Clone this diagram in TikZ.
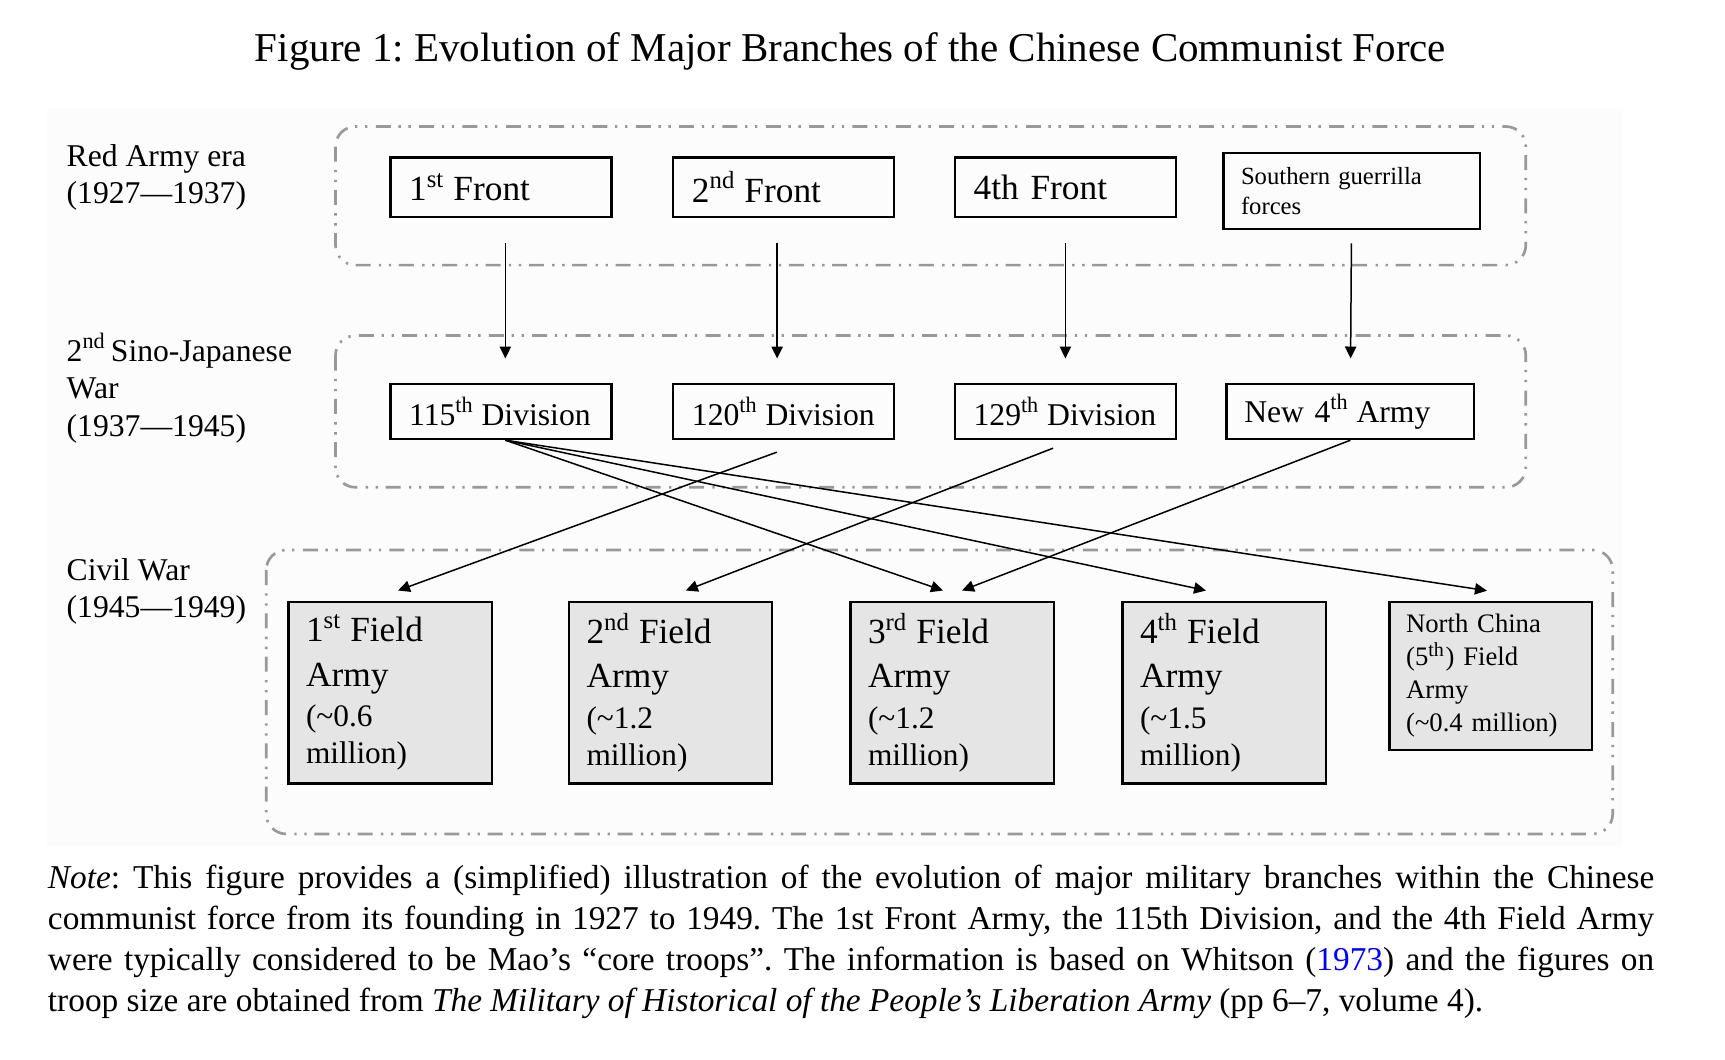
\documentclass[tikz,border=0pt]{standalone}
\usepackage{fontspec}
\setmainfont{Liberation Serif}
\usetikzlibrary{arrows.meta,positioning,backgrounds}
\newcommand{\troops}[1]{{\fontsize{9.4}{11}\selectfont #1}}
\newcommand{\ord}[1]{\textsuperscript{#1}\hspace{-1pt}}
\hyphenpenalty=10000
\frenchspacing

\begin{document}
\begin{tikzpicture}[
  x=0.3pt,y=-0.3pt,
  era/.style={anchor=west,inner sep=0pt,align=left,font=\fontsize{9.5}{11.2}\selectfont},
  grp/.style={draw=black!40,line width=0.8pt,rounded corners=6pt,
    dash pattern=on 4.5pt off 2.5pt on 0.7pt off 2.3pt on 0.7pt off 2.3pt},
  unit/.style={draw,line width=0.7pt,inner ysep=0pt,align=left},
  front/.style={unit,inner xsep=5.6pt,text width=55.1pt,minimum height=17.8pt,
    font=\fontsize{10.6}{12}\selectfont},
  divn/.style={unit,inner xsep=5.6pt,text width=55.1pt,minimum height=16.5pt,
    font=\fontsize{9.5}{11}\selectfont},
  field/.style={unit,fill=black!10,inner xsep=5.3pt,text width=50.4pt,minimum height=54.5pt,
    font=\fontsize{10.6}{11}\selectfont},
  ar/.style={-{Triangle[length=3.6pt,width=3.4pt]},line width=0.45pt}
]
\useasboundingbox (0,0) rectangle (1725,1059);
\fill[white] (0,0) rectangle (1725,1059);
\fill[black!1.2] (47,108) rectangle (1623,847);

\node[font=\fontsize{12.3}{14}\selectfont] (title) at (850.4,51.5)
  {Figure 1: Evolution of Major Branches of the Chinese Communist Force};

% eras
\node[era] (e1) at (66,177.2) {Red Army era\\(1927\textemdash1937)};
\node[era] (e2) at (66,388.2) {2\ord{nd} Sino-Japanese\\War\\(1937\textemdash1945)};
\node[era] (e3) at (66,591.6) {Civil War\\(1945\textemdash1949)};

\draw[grp] (335.5,126.5) rectangle (1525.8,265.1);
\draw[grp] (335.5,335.5) rectangle (1525.8,487.3);
\draw[grp] (266.2,550) rectangle (1612.7,833.9);

% Red Army era
\node[front] (f1) at (501,187) {\mbox{1\ord{st} Front}};
\node[front] (f2) at (783.8,187) {\mbox{2\ord{nd} Front}};
\node[front] (f4) at (1065.4,187) {4th Front};
\node[unit,inner xsep=5.3pt,text width=66.3pt,minimum height=22.8pt,
      font=\fontsize{7.4}{9}\selectfont] (sg) at (1351.5,190.9)
  {Southern guerrilla\\forces};

% Sino-Japanese war
\node[divn] (d115) at (501,411.5) {\mbox{115\ord{th} Division}};
\node[divn] (d120) at (783.8,411.5) {\mbox{120\ord{th} Division}};
\node[divn] (d129) at (1065.4,411.5) {\mbox{129\ord{th} Division}};
\node[divn,inner xsep=5.3pt,text width=63.7pt] (dn4) at (1350.4,411.5)
  {\mbox{New 4\ord{th} Army}};

\foreach \a/\b/\s in {f1/d115/1.3pt,f2/d120/-2pt,f4/d129/0pt}
  \draw[ar,shorten <=7.6pt,shorten >=7.3pt] ([xshift=\s]\a.south) -- ([xshift=\s]\b.north);
\draw[ar,shorten <=4pt,shorten >=7.3pt] (sg.south) -- (dn4.north);

% Civil war
\node[field] (fa1) at (390,692.5)
  {1\ord{st} Field\\[2.3pt]Army\\[1.2pt]\troops{(\textasciitilde0.6\\million)}};
\node[field] (fa2) at (670.5,692.5)
  {2\ord{nd} Field\\[2.3pt]Army\\[1.2pt]\troops{(\textasciitilde1.2\\million)}};
\node[field] (fa3) at (952,692.5)
  {3\ord{rd} Field\\[2.3pt]Army\\[1.2pt]\troops{(\textasciitilde1.2\\million)}};
\node[field] (fa4) at (1224,692.5)
  {4\ord{th} Field\\[2.3pt]Army\\[1.2pt]\troops{(\textasciitilde1.5\\million)}};
\node[field,inner xsep=5pt,text width=50.7pt,minimum height=44.5pt,
      font=\fontsize{8}{9.9}\selectfont] (fnc) at (1490.6,676)
  {North China\\(5\textsuperscript{th}) Field\\Army\\(\textasciitilde0.4 million)};

\draw[ar] ([xshift=1.3pt]d115.south) -- ([xshift=-2.7pt,yshift=3pt]fa3.north);
\draw[ar] ([xshift=1.3pt]d115.south) -- ([xshift=-5.4pt,yshift=3pt]fa4.north);
\draw[ar] ([xshift=1.3pt]d115.south) -- ([xshift=-1.1pt,yshift=3pt]fnc.north);
\draw[ar] ([xshift=-2.1pt,yshift=-3.6pt]d120.south) -- ([xshift=2.4pt,yshift=3pt]fa1.north);
\draw[ar] ([xshift=-3.7pt,yshift=-2.4pt]d129.south) -- ([xshift=4.6pt,yshift=3pt]fa2.north);
\draw[ar] (dn4.south) -- ([xshift=3pt,yshift=3pt]fa3.north);

\node[anchor=west,inner sep=0pt,text width=481.9pt,align=justify,
      font=\fontsize{10}{12.3}\selectfont] (note) at (47.3,941.7)
  {\textit{Note}: This figure provides a (simplified) illustration of the evolution of major
   military branches within the Chinese\linebreak communist force from its founding in 1927
   to 1949. The 1st Front Army, the 115th Division, and the 4th Field Army\linebreak were
   typically considered to be Mao’s “core troops”. The information is based on Whitson
   (\textcolor{blue}{1973}) and the figures on\linebreak troop size are obtained from
   \textit{The Military of Historical of the People’s Liberation Army} (pp 6–7, volume 4).};
\end{tikzpicture}
\end{document}
